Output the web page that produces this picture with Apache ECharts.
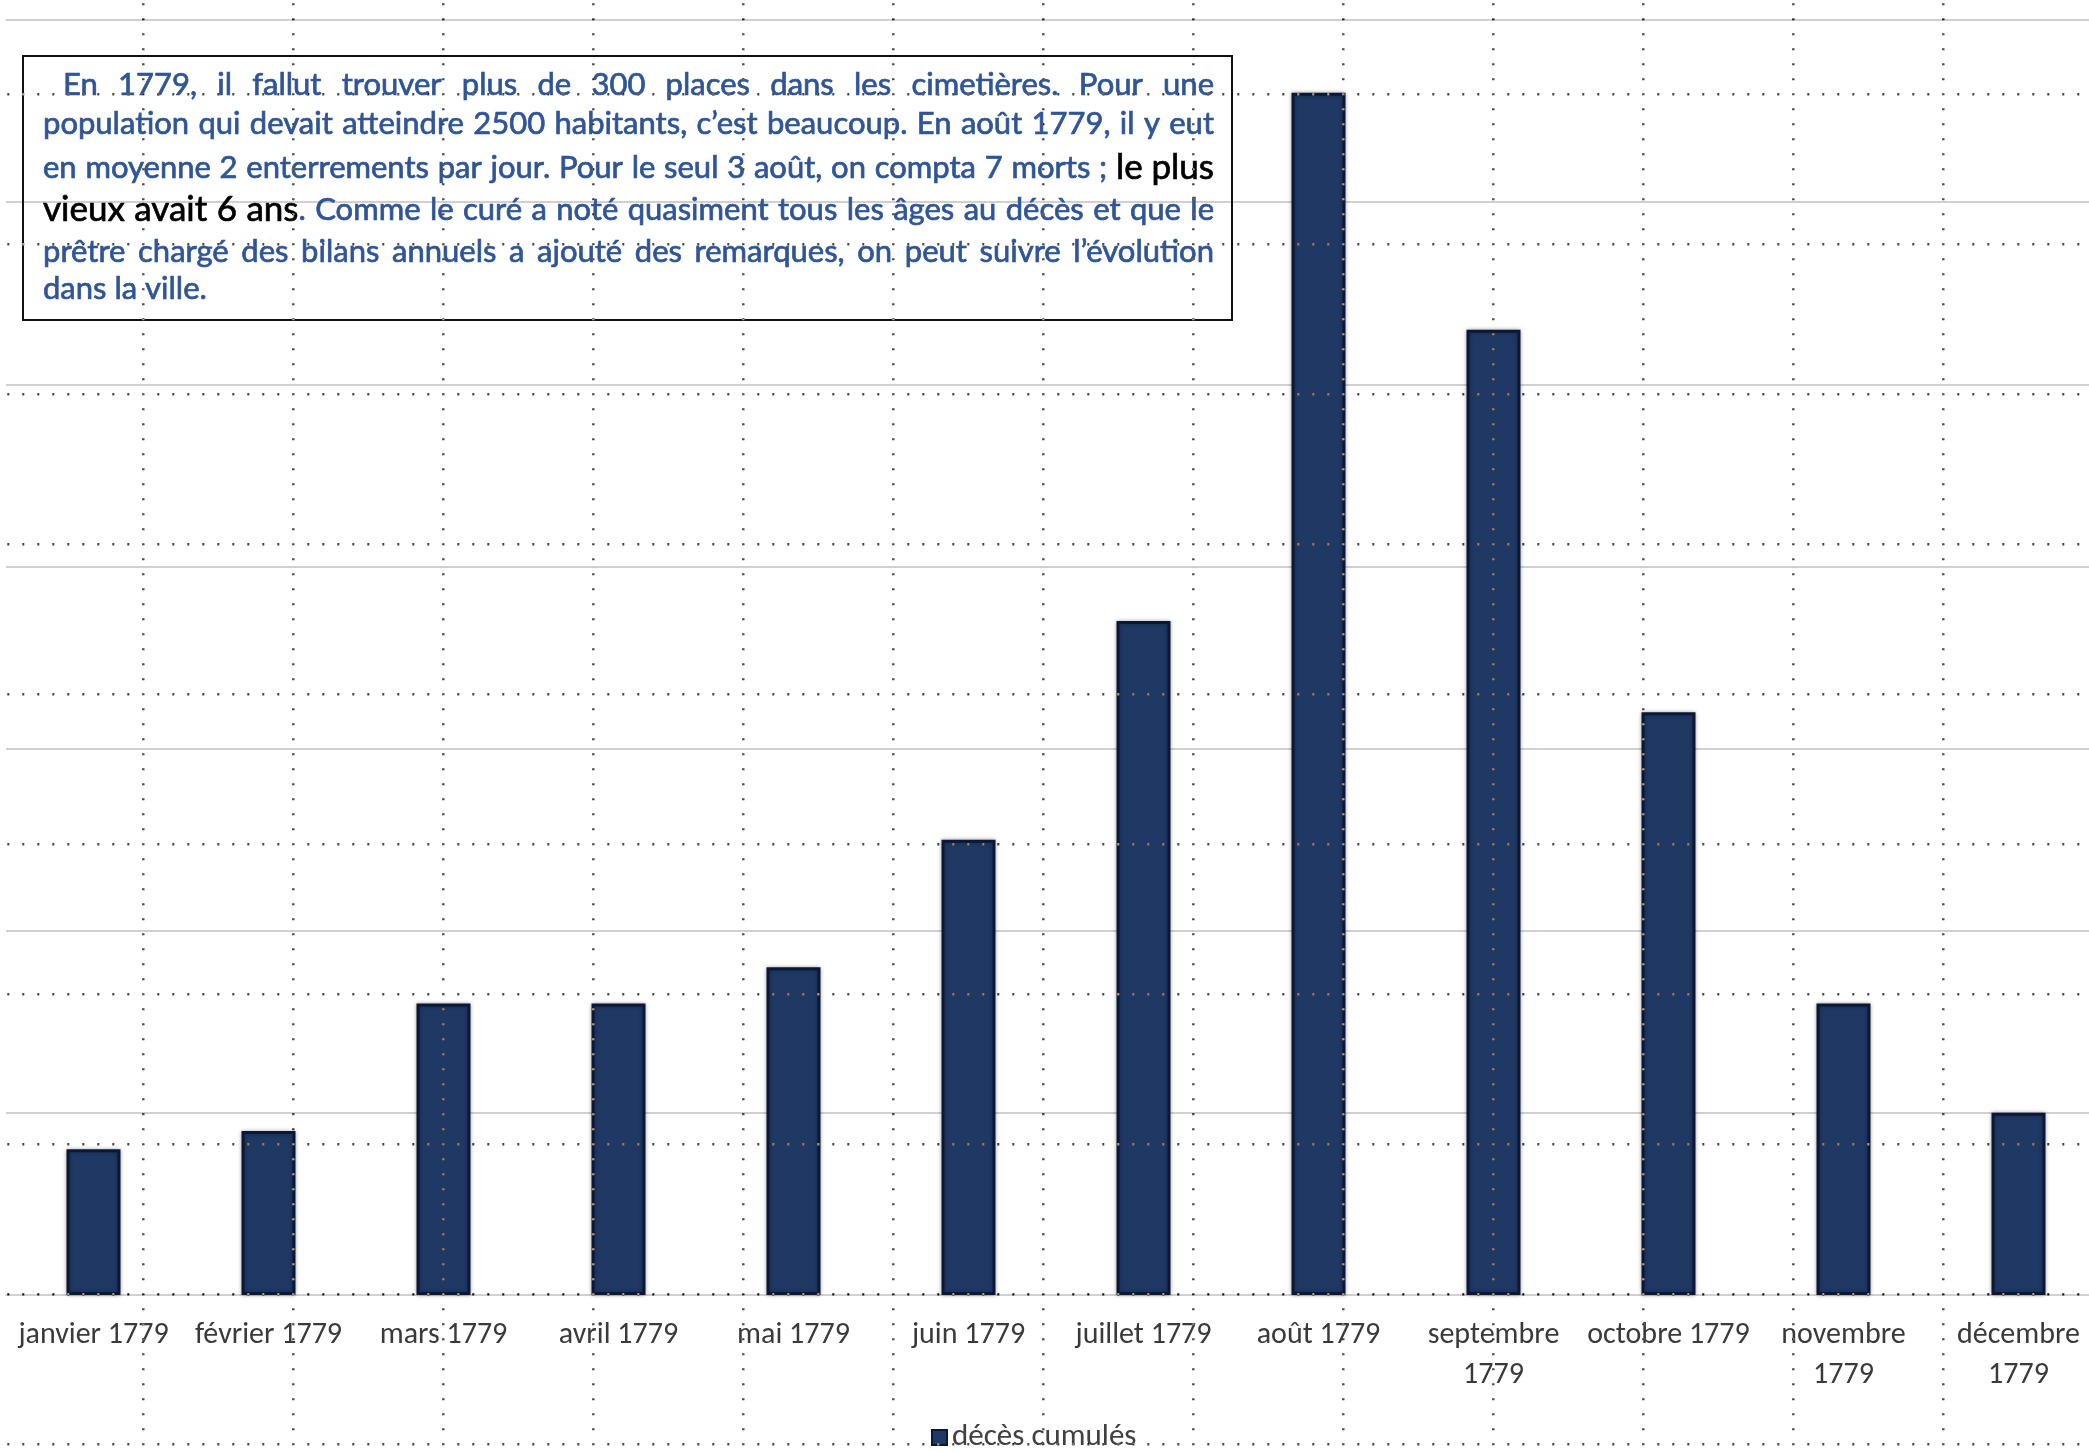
<!DOCTYPE html>
<html>
<head>
<meta charset="utf-8">
<script src="https://cdn.jsdelivr.net/npm/echarts@6/dist/echarts.min.js"></script>
<style>
  html, body { margin: 0; padding: 0; background: #fff; overflow: hidden; }
  /* the plot runs slightly past the right edge of the page */
  #chart { width: 2110px; height: 1451px; }
</style>
</head>
<body>
<div id="chart"></div>
<script>
// Monthly burials, 1779
const months = ['janvier 1779', 'février 1779', 'mars 1779', 'avril 1779', 'mai 1779', 'juin 1779',
  'juillet 1779', 'août 1779', 'septembre 1779', 'octobre 1779', 'novembre 1779', 'décembre 1779'];
const deaths = [8, 9, 16, 16, 18, 25, 37, 66, 53, 32, 16, 10];
const seriesName = 'décès cumulés';
const yMax = 70;
const yStep = 10;

// Commentary box: each line is a list of [text, style] runs ('b' = blue body text, 'k' = black emphasis)
const noteLines = [
  [['En 1779, il fallut trouver plus de 300 places dans les cimetières. Pour une', 'b']],
  [['population qui devait atteindre 2500 habitants, c’est beaucoup. En août 1779, il y eut', 'b']],
  [['en moyenne 2 enterrements par jour. Pour le seul 3 août, on compta 7 morts ; ', 'b'], ['le plus', 'k']],
  [['vieux avait 6 ans', 'k'], ['. Comme le curé a noté quasiment tous les âges au décès et que le', 'b']],
  [['prêtre chargé des bilans annuels a ajouté des remarques, on peut suivre l’évolution', 'b']],
  [['dans la ville.', 'b']]
];

const W = 2110, H = 1451;
const noteFamily = 'Lato, "Open Sans", sans-serif';
const noteColors = { b: '#2f5597', k: '#000000' };

// Lay out the commentary as justified text, one graphic text element per word segment
function buildNote() {
  const ctx = document.createElement('canvas').getContext('2d');
  const left = 43, right = 1214, indent = 20;
  const lineY = [85, 124, 168, 210, 252, 289];

  // split every line into words made of styled segments
  const lines = noteLines.map(runs => {
    const words = [];
    let cur = null;
    runs.forEach(([text, st]) => {
      for (const ch of text) {
        if (ch === ' ') { if (cur) { words.push(cur); cur = null; } continue; }
        if (!cur) cur = [];
        const last = cur[cur.length - 1];
        if (last && last.st === st) last.t += ch; else cur.push({ t: ch, st });
      }
    });
    if (cur) words.push(cur);
    return words;
  });

  // largest body size for which every justified line still fits with ordinary spaces
  let size = 36, fonts;
  const fontsFor = s => ({ b: `${s}px ${noteFamily}`, k: `${Math.round(s * 1.12)}px ${noteFamily}` });
  const natural = (words, f) => {
    let w = 0;
    words.forEach(word => word.forEach(seg => { ctx.font = f[seg.st]; w += ctx.measureText(seg.t).width; }));
    ctx.font = f.b;
    return w + ctx.measureText(' ').width * 1.1 * (words.length - 1);
  };
  for (; size > 16; size -= 0.5) {
    fonts = fontsFor(size);
    const ok = lines.every((words, li) => li === lines.length - 1 ||
      natural(words, fonts) <= right - left - (li === 0 ? indent : 0));
    if (ok) break;
  }

  const els = [];
  lines.forEach((words, li) => {
    const widths = words.map(w => w.reduce((s, seg) => {
      ctx.font = fonts[seg.st];
      seg.w = ctx.measureText(seg.t).width;
      return s + seg.w;
    }, 0));
    const x0 = left + (li === 0 ? indent : 0);
    const total = widths.reduce((a, b) => a + b, 0);
    const isLast = li === lines.length - 1;
    ctx.font = fonts.b;
    const gap = isLast ? ctx.measureText(' ').width : (right - x0 - total) / (words.length - 1);
    let x = x0;
    words.forEach((w, wi) => {
      let sx = x;
      w.forEach(seg => {
        els.push({
          type: 'text', z: 50, silent: true,
          style: {
            text: seg.t, x: sx, y: lineY[li], font: fonts[seg.st], fill: noteColors[seg.st],
            stroke: noteColors[seg.st], lineWidth: 0.7,
            textAlign: 'left', textVerticalAlign: 'middle', verticalAlign: 'middle'
          }
        });
        sx += seg.w;
      });
      x += widths[wi] + gap;
    });
  });
  els.push({
    type: 'rect', z: 50, silent: true,
    shape: { x: 23, y: 56, width: 1209, height: 264 },
    style: { fill: 'none', stroke: '#111', lineWidth: 2 }
  });
  return els;
}

// Dotted guide grid over the whole page; dots invert what lies beneath them.
// Horizontal lines skip the crossing points so each crossing dot is drawn only once.
function buildDots() {
  const step = 150, dot = 15, len = 2;
  const cx = 143.3, cy = 94.3;
  const style = { stroke: '#bbbbbb', lineWidth: 2.4, blend: 'difference' };
  const els = [];
  const vStart = cy - Math.ceil(cy / dot) * dot - len / 2;
  for (let x = cx; x < W; x += step) {
    els.push({
      type: 'line', z: 100, silent: true,
      shape: { x1: x, y1: vStart, x2: x, y2: H + 10 },
      style: Object.assign({ lineDash: [len, dot - len] }, style)
    });
  }
  const skipDash = [];
  for (let i = 0; i < step / dot - 2; i++) skipDash.push(len, dot - len);
  skipDash.push(len, 2 * dot - len);
  const hStart = cx - step + dot - len / 2;
  for (let y = cy; y < H; y += step) {
    els.push({
      type: 'line', z: 100, silent: true,
      shape: { x1: hStart, y1: y, x2: W + 10, y2: y },
      style: Object.assign({ lineDash: skipDash }, style)
    });
  }
  return els;
}

const labelFont = 'Carlito, "Open Sans", "Noto Sans", sans-serif';

const chart = echarts.init(document.getElementById('chart'), null, { renderer: 'canvas' });
chart.setOption({
  backgroundColor: '#ffffff',
  animation: false,
  grid: { left: 6, right: 4, top: 20, bottom: 156, containLabel: false },
  legend: {
    data: [seriesName],
    bottom: -7,
    left: 926,
    icon: 'rect',
    itemWidth: 15,
    itemHeight: 15,
    itemGap: 6,
    textStyle: { fontFamily: labelFont, fontSize: 31, color: '#404040' }
  },
  xAxis: {
    type: 'category',
    data: months,
    axisLine: { show: true, lineStyle: { color: '#d0d0d0', width: 2 } },
    axisTick: { show: false },
    axisLabel: {
      interval: 0,
      margin: 20,
      lineHeight: 40,
      fontFamily: labelFont,
      fontSize: 30,
      color: '#3a3a3a',
      formatter: v => (v.length > 12 ? v.replace(' ', '\n') : v)
    }
  },
  yAxis: {
    type: 'value',
    min: 0,
    max: yMax,
    interval: yStep,
    axisLabel: { show: false },
    axisLine: { show: false },
    axisTick: { show: false },
    splitLine: { lineStyle: { color: '#d0d0d0', width: 2 } }
  },
  series: [{
    name: seriesName,
    type: 'bar',
    data: deaths,
    barWidth: 54,
    itemStyle: {
      color: '#1f3864',
      borderColor: '#0b1736',
      borderWidth: 3,
      shadowBlur: 4,
      shadowColor: 'rgba(0,0,0,0.3)'
    }
  }],
  graphic: buildNote().concat(buildDots())
});
</script>
</body>
</html>
